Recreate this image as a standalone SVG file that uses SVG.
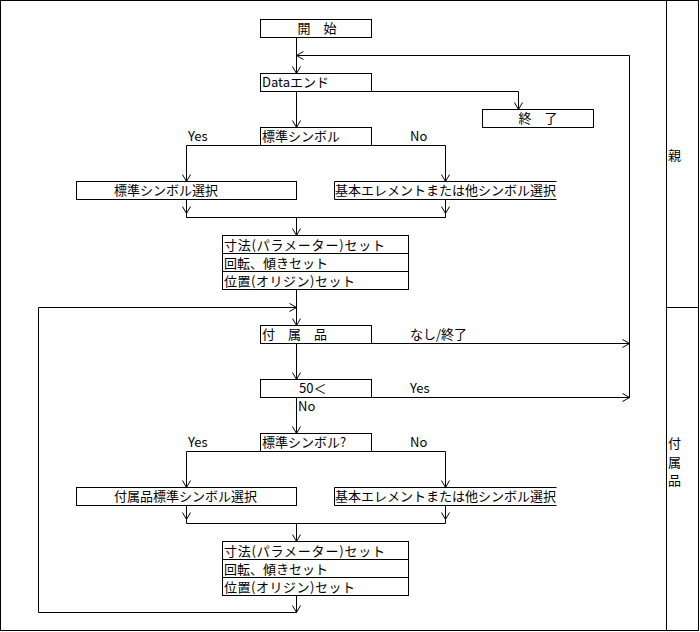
<svg xmlns="http://www.w3.org/2000/svg" width="700" height="632" viewBox="0 0 700 632">
<style>
.b{fill:#fff;stroke:#000;stroke-width:1}
.o{fill:none;stroke:#000;stroke-width:1}
.c path{fill:none;stroke:#000;stroke-width:1}
.a{marker-end:url(#ah)}
text{font-family:"Noto Sans CJK JP","Liberation Sans",sans-serif;font-size:13px;fill:#000}
.m{text-anchor:middle}
</style>
<defs>
<marker id="ah" viewBox="-8 -5 10 10" markerWidth="10" markerHeight="10" refX="0" refY="0" orient="auto" markerUnits="userSpaceOnUse">
<path d="M-7,-4 L0,0 L-7,4" fill="none" stroke="#000" stroke-width="1"/>
</marker>
</defs>
<rect width="700" height="632" fill="#fff"/>
<g id="frame">
<rect class="o" x="0.5" y="0.5" width="698" height="630"/>
<path class="o" d="M666.5,0.5 V630.5 M666.5,307.5 H698.5"/>
<text x="668" y="160">親</text>
<text x="668" y="448">付</text>
<text x="668" y="467">属</text>
<text x="668" y="485">品</text>
</g>
<g class="c" id="connectors">
<path class="a" d="M296.5,37.5 V73.5"/>
<path class="a" d="M629.5,397.5 V55.5 H296.5"/>
<path class="a" d="M296.5,91.5 V127.5"/>
<path class="a" d="M371.5,91.5 H518.5 V109.5"/>
<path class="a" d="M296.5,145.5 H186.5 V181.5"/>
<path class="a" d="M371.5,145.5 H445.5 V181.5"/>
<path class="a" d="M186.5,199.5 V213.5"/>
<path class="a" d="M445.5,199.5 V213.5"/>
<path d="M186.5,213.5 V217.5 H445.5 V213.5"/>
<path class="a" d="M296.5,217.5 V235.5"/>
<path class="a" d="M296.5,289.5 V325.5"/>
<path class="a" d="M296.5,595.5 V612.5"/>
<path class="a" d="M296.5,612.5 H38.5 V307.5 H296.5"/>
<path class="a" d="M296.5,343.5 V379.5"/>
<path class="a" d="M371.5,343.5 H629.5"/>
<path class="a" d="M371.5,397.5 H629.5"/>
<path class="a" d="M296.5,397.5 V433.5"/>
<path class="a" d="M296.5,451.5 H186.5 V487.5"/>
<path class="a" d="M371.5,451.5 H445.5 V487.5"/>
<path class="a" d="M186.5,505.5 V519.5"/>
<path class="a" d="M445.5,505.5 V519.5"/>
<path d="M186.5,519.5 V523.5 H445.5 V519.5"/>
<path class="a" d="M296.5,523.5 V541.5"/>
</g>
<g id="labels">
<text x="188" y="141">Yes</text>
<text x="410" y="141">No</text>
<text x="410" y="339">なし/終了</text>
<text x="410" y="393">Yes</text>
<text x="298" y="411">No</text>
<text x="188" y="447">Yes</text>
<text x="410" y="447">No</text>
</g>
<g id="start">
<rect class="b" x="260.5" y="19.5" width="111" height="18"/>
<text class="m" x="317" y="33">開　始</text>
</g>
<g id="dataend">
<rect class="b" x="260.5" y="73.5" width="111" height="18"/>
<text x="262" y="87">Dataエンド</text>
</g>
<g id="end">
<rect class="b" x="482.5" y="109.5" width="111" height="18"/>
<text class="m" x="538" y="123">終　了</text>
</g>
<g id="std1">
<rect class="b" x="260.5" y="127.5" width="111" height="18"/>
<text x="262" y="141">標準シンボル</text>
</g>
<g id="stdsel1">
<rect class="b" x="76.5" y="181.5" width="220" height="18"/>
<text x="114" y="195">標準シンボル選択</text>
</g>
<g id="other1">
<path class="o" d="M556.5,181.5 H334.5 V199.5 H556.5"/>
<text x="335" y="195">基本エレメントまたは他シンボル選択</text>
</g>
<g id="set1">
<rect class="b" x="222.5" y="235.5" width="186" height="54"/>
<path class="o" d="M222.5,253.5 H408.5 M222.5,271.5 H408.5"/>
<text x="224" y="250" textLength="161" lengthAdjust="spacing">寸法(パラメーター)セット</text>
<text x="224" y="268">回転、傾きセット</text>
<text x="224" y="286" textLength="131" lengthAdjust="spacing">位置(オリジン)セット</text>
</g>
<g id="acc">
<rect class="b" x="260.5" y="325.5" width="111" height="18"/>
<text x="262" y="339">付　属　品</text>
</g>
<g id="fifty">
<rect class="b" x="260.5" y="379.5" width="111" height="18"/>
<text x="299" y="393">50＜</text>
</g>
<g id="std2">
<rect class="b" x="260.5" y="433.5" width="111" height="18"/>
<text x="262" y="447">標準シンボル?</text>
</g>
<g id="stdsel2">
<rect class="b" x="76.5" y="487.5" width="220" height="18"/>
<text x="114" y="501">付属品標準シンボル選択</text>
</g>
<g id="other2">
<path class="o" d="M556.5,487.5 H334.5 V505.5 H556.5"/>
<text x="335" y="501">基本エレメントまたは他シンボル選択</text>
</g>
<g id="set2">
<rect class="b" x="222.5" y="541.5" width="186" height="54"/>
<path class="o" d="M222.5,559.5 H408.5 M222.5,577.5 H408.5"/>
<text x="224" y="556" textLength="161" lengthAdjust="spacing">寸法(パラメーター)セット</text>
<text x="224" y="574">回転、傾きセット</text>
<text x="224" y="592" textLength="131" lengthAdjust="spacing">位置(オリジン)セット</text>
</g>
</svg>
